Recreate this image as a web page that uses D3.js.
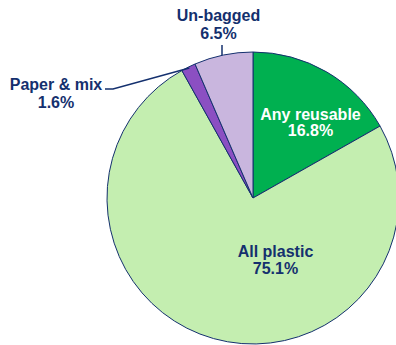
<!DOCTYPE html>
<html><head><meta charset="utf-8">
<script src="https://cdn.jsdelivr.net/npm/d3@7"></script>
<style>html,body{margin:0;padding:0;background:#fff;overflow:hidden}</style>
</head><body>
<svg id="c" width="396" height="345"></svg>
<script>
const categories = ["Any reusable", "All plastic", "Paper & mix", "Un-bagged"];
const values = [16.8, 75.1, 1.6, 6.5];
const valueLabels = ["16.8%", "75.1%", "1.6%", "6.5%"];

const colors = ["#00B050", "#C4EEB0", "#8B4FC2", "#C9B6DE"];
const navy = "#14306E";
const cx = 253, cy = 198, R = 146;
// label layout (text anchor centre, relative to pie centre), text colour
const labelLayout = [
  {dx: 57.5, y1: 120, y2: 136, fill: "#ffffff"},
  {dx: 22.5, y1: 256.5, y2: 273.5, fill: navy},
  {x: 56, y1: 89.5, y2: 108, fill: navy},
  {x: 218.5, y1: 21, y2: 39, fill: navy}
];

const svg = d3.select("#c");
const data = categories.map((c, i) => ({c, v: values[i], l: valueLabels[i]}));
const pie = d3.pie().sort(null).value(d => d.v);
const arcs = pie(data);
const arc = d3.arc().innerRadius(0).outerRadius(R);

const g = svg.append("g").attr("transform", `translate(${cx},${cy})`);
g.selectAll("path").data(arcs).enter().append("path")
  .attr("d", arc)
  .attr("fill", (d, i) => colors[i])
  .attr("stroke", navy).attr("stroke-width", 1).attr("stroke-linejoin", "round");

// leader lines
const outer = d3.arc().innerRadius(R).outerRadius(R);
function edgePoint(a){ return [cx + R*Math.sin(a), cy - R*Math.cos(a)]; }
const pPaper = edgePoint((arcs[2].startAngle + arcs[2].endAngle)/2);
svg.append("polyline")
  .attr("points", [[105,89],[113,89],[pPaper[0]+1, pPaper[1]+1]].map(p=>p.join(",")).join(" "))
  .attr("fill","none").attr("stroke", navy).attr("stroke-width", 1.5);
const pUn = edgePoint(arcs[3].startAngle + (arcs[3].endAngle - arcs[3].startAngle)*0.5);
svg.append("line").attr("x1", 222).attr("y1", 45).attr("x2", 222).attr("y2", cy - Math.sqrt(R*R - (222-cx)*(222-cx)))
  .attr("stroke", navy).attr("stroke-width", 1.5);

const font = "'Liberation Sans', Arial, sans-serif";
data.forEach((d, i) => {
  const L = labelLayout[i];
  const x = L.x !== undefined ? L.x : cx + L.dx;
  const t = svg.append("text").attr("text-anchor","middle")
    .attr("font-family", font).attr("font-weight","bold").attr("font-size", 16)
    .attr("fill", L.fill);
  t.append("tspan").attr("x", x).attr("y", L.y1).text(d.c);
  t.append("tspan").attr("x", x).attr("y", L.y2).text(d.l);
});
</script>
</body></html>
